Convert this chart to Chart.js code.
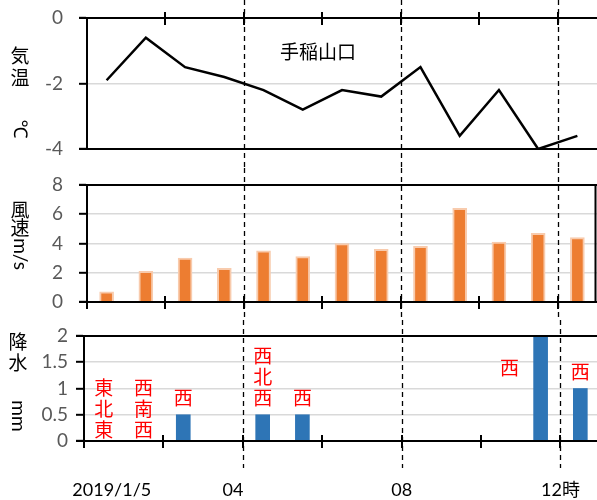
<!DOCTYPE html>
<html>
<head>
<meta charset="utf-8">
<script src="https://cdn.jsdelivr.net/npm/chart.js"></script>
<style>
html, body { margin: 0; padding: 0; background: #fff; }
#wrap { position: relative; width: 597px; height: 500px; }
canvas { position: absolute; left: 0; }
</style>
</head>
<body>
<div id="wrap">
    <canvas id="tempChart" width="597" height="168" style="top:0px"></canvas>
    <canvas id="windChart" width="597" height="152" style="top:168px"></canvas>
    <canvas id="rainChart" width="597" height="180" style="top:320px"></canvas>
</div>
<script>
// Hourly observations, 2019/1/5 (values sit in the middle of each hour)
const hours = [0.5, 1.5, 2.5, 3.5, 4.5, 5.5, 6.5, 7.5, 8.5, 9.5, 10.5, 11.5, 12.5];
const temperature = [-1.9, -0.6, -1.5, -1.8, -2.2, -2.8, -2.2, -2.4, -1.5, -3.6, -2.2, -4.0, -3.6];
const windSpeed = [0.7, 2.1, 3.0, 2.3, 3.5, 3.1, 4.0, 3.6, 3.8, 6.4, 4.1, 4.7, 4.4];
const precipitation = [0, 0, 0.5, 0, 0.5, 0.5, 0, 0, 0, 0, 0, 2.0, 1.0];
const windDirection = ['東北東', '西南西', '西', '', '西北西', '西', '', '', '', '', '', '西', '西'];

// Time axis labels and markers
const xTickLabels = ['2019/1/5', '04', '08', '12時'];
const xTickHours = [0.7, 3.75, 8, 12];
const dashHours = [4, 8, 12];
const minorTickHours = [0, 2, 4, 6, 8, 10, 12];

const stationName = '手稲山口';

// Colors
const colors = {
    line: '#000000',
    wind: '#ED7D31',
    windEdge: '#F8CBAD',
    rain: '#2E75B6',
    grid: '#D9D9D9',
    tickText: '#595959',
    direction: '#FF0000'
};

const NUM_FONT = 'Lato, "Noto Sans", sans-serif';
const CJK_FONT = '"Noto Sans CJK JP", sans-serif';

function toPoints(values) {
    return values.map((v, i) => ({ x: hours[i], y: v }));
}

// Draws frames, crossing ticks, dashed hour lines and axis titles
const panelPlugin = {
    id: 'panel',
    afterDraw(chart, args, opts) {
        const ctx = chart.ctx;
        const a = chart.chartArea;
        const x = chart.scales.x;
        const y = chart.scales.y;
        const W = chart.width;

        ctx.save();

        // dashed hour lines
        ctx.strokeStyle = '#000';
        ctx.lineWidth = 1.3;
        ctx.setLineDash([5, 4]);
        dashHours.forEach(h => {
            const px = Math.round(x.getPixelForValue(h)) + 0.5;
            ctx.beginPath();
            ctx.moveTo(px, opts.dashTop);
            ctx.lineTo(px, opts.dashBottom);
            ctx.stroke();
        });
        ctx.setLineDash([]);

        // frame
        ctx.lineWidth = 2;
        ctx.beginPath();
        ctx.moveTo(a.left - 8, a.top); ctx.lineTo(W, a.top);
        ctx.moveTo(a.left - 8, a.bottom); ctx.lineTo(W, a.bottom);
        if (opts.rightBorder) {
            ctx.moveTo(a.right - 1.5, a.top); ctx.lineTo(a.right - 1.5, a.bottom);
        }
        ctx.stroke();

        // crossing ticks along the time axis
        const edge = opts.tickEdge === 'top' ? a.top : a.bottom;
        ctx.beginPath();
        minorTickHours.forEach(h => {
            if (h === 0 && opts.tickEdge === 'top') return;
            const px = Math.round(x.getPixelForValue(h));
            ctx.moveTo(px, edge - 6);
            ctx.lineTo(px, edge + 7);
        });
        ctx.stroke();

        // axis titles: upright characters, then rotated unit
        ctx.fillStyle = '#000';
        ctx.textAlign = 'center';
        ctx.textBaseline = 'middle';
        ctx.font = '19px ' + CJK_FONT;
        opts.title.chars.forEach((c, i) => {
            ctx.fillText(c, opts.title.x, opts.title.ys[i]);
        });
        ctx.save();
        ctx.translate(opts.title.x, opts.title.unitY);
        ctx.rotate(Math.PI / 2);
        ctx.font = '19px ' + NUM_FONT + ', ' + CJK_FONT;
        ctx.fillText(opts.title.unit, 0, 0);
        ctx.restore();

        if (opts.extra) opts.extra(chart, x, y);

        ctx.restore();
    }
};

function yScale(min, max, step, width, pad) {
    return {
        min: min,
        max: max,
        // fixed axis width; let end labels overflow instead of shrinking the plot
        afterFit: s => {
            s.width = width;
            s.paddingTop = 0;
            s.paddingBottom = 0;
        },
        ticks: {
            stepSize: step,
            color: colors.tickText,
            font: { family: NUM_FONT, size: 19 },
            padding: pad,
            callback: v => String(Number(v))
        },
        grid: {
            color: c => (c.tick && (c.tick.value === min || c.tick.value === max)) ? 'rgba(0,0,0,0)' : colors.grid,
            lineWidth: 1.6,
            tickColor: '#000',
            tickWidth: 2,
            tickLength: 8
        },
        border: { color: '#000', width: 2 }
    };
}

function baseOptions(xMax, yOpts, padding, panel) {
    return {
        responsive: false,
        animation: false,
        layout: { padding: padding },
        scales: {
            x: { type: 'linear', min: 0, max: xMax, offset: false, grid: { offset: false }, display: false },
            y: yOpts
        },
        plugins: {
            legend: { display: false },
            tooltip: { enabled: false },
            panel: panel
        }
    };
}

// Temperature panel
new Chart(document.getElementById('tempChart'), {
    type: 'line',
    data: {
        datasets: [{
            data: toPoints(temperature),
            borderColor: colors.line,
            borderWidth: 2.5,
            pointRadius: 0,
            tension: 0
        }]
    },
    options: baseOptions(13, yScale(-4, 0, 2, 87, 16),
        { top: 18, bottom: 19, left: 0, right: 0 },
        {
            dashTop: 0, dashBottom: 168, tickEdge: 'top', rightBorder: false,
            title: { x: 20, chars: ['気', '温'], ys: [56, 78], unit: '℃', unitY: 129 },
            extra: (chart) => {
                const ctx = chart.ctx;
                ctx.fillStyle = '#000';
                ctx.font = '19px ' + CJK_FONT;
                ctx.textAlign = 'center';
                ctx.textBaseline = 'middle';
                ctx.fillText(stationName, 318, 52);
            }
        }),
    plugins: [panelPlugin]
});

// Wind speed panel
new Chart(document.getElementById('windChart'), {
    type: 'bar',
    data: {
        datasets: [{
            data: toPoints(windSpeed),
            backgroundColor: colors.wind,
            borderColor: colors.windEdge,
            borderWidth: 2,
            barThickness: 14
        }]
    },
    options: baseOptions(13, yScale(0, 8, 2, 87, 16),
        { top: 17, bottom: 18, left: 0, right: 0 },
        {
            dashTop: 0, dashBottom: 152, tickEdge: 'bottom', rightBorder: true,
            title: { x: 20, chars: ['風', '速'], ys: [42, 60], unit: 'm/s', unitY: 86 }
        }),
    plugins: [panelPlugin]
});

// Precipitation panel with wind direction notes
new Chart(document.getElementById('rainChart'), {
    type: 'bar',
    data: {
        datasets: [{
            data: toPoints(precipitation),
            backgroundColor: colors.rain,
            borderWidth: 0,
            barThickness: 14
        }]
    },
    options: baseOptions(12.92, yScale(0, 2, 0.5, 84, 8),
        { top: 16, bottom: 59, left: 0, right: 0 },
        {
            dashTop: 0, dashBottom: 148, tickEdge: 'bottom', rightBorder: false,
            title: { x: 18, chars: ['降', '水'], ys: [22, 43], unit: 'mm', unitY: 96 },
            extra: (chart, x, y) => {
                const ctx = chart.ctx;
                ctx.textAlign = 'center';
                ctx.textBaseline = 'middle';

                // wind direction, stacked vertically above each bar
                ctx.fillStyle = colors.direction;
                ctx.font = '19px ' + CJK_FONT;
                windDirection.forEach((dir, i) => {
                    if (!dir) return;
                    const v = precipitation[i];
                    let px = x.getPixelForValue(hours[i]);
                    let bottomY;
                    if (v >= y.max) {
                        px -= 31;
                        bottomY = y.getPixelForValue(1.4);
                    } else {
                        bottomY = y.getPixelForValue(v) - (v > 0 ? 17 : 11);
                    }
                    const chars = Array.from(dir);
                    chars.forEach((c, k) => {
                        ctx.fillText(c, px, bottomY - (chars.length - 1 - k) * 21);
                    });
                });

                // time labels under the axis
                ctx.fillStyle = '#000';
                ctx.font = '18px ' + NUM_FONT + ', ' + CJK_FONT;
                xTickLabels.forEach((t, i) => {
                    ctx.fillText(t, x.getPixelForValue(xTickHours[i]), 170);
                });
            }
        }),
    plugins: [panelPlugin]
});
</script>
</body>
</html>
